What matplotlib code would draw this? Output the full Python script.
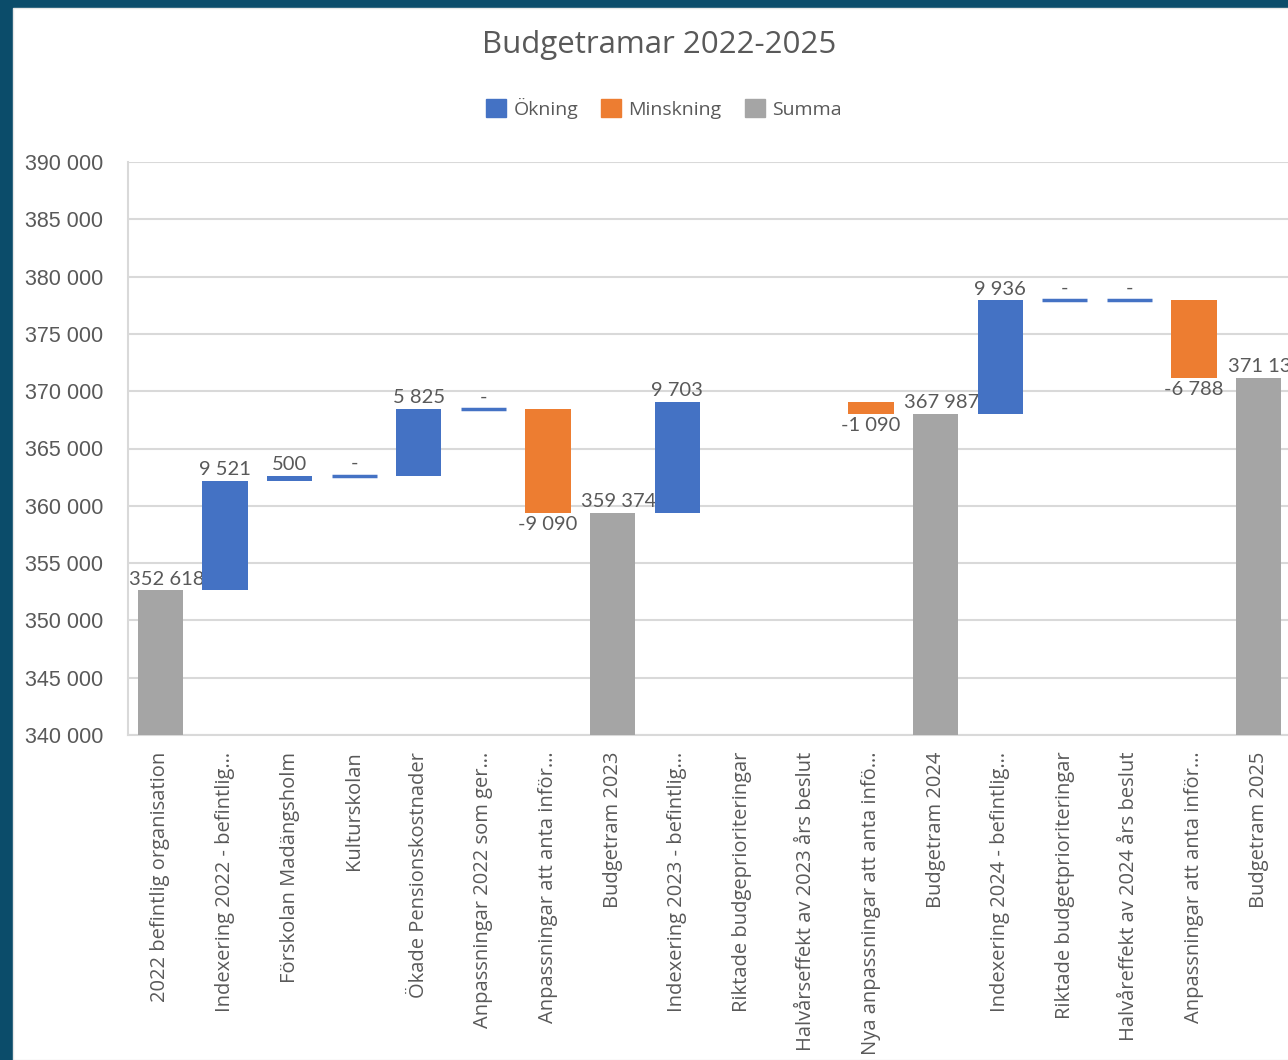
import matplotlib
matplotlib.use('Agg')
import matplotlib.pyplot as plt
from matplotlib.patches import Patch, Rectangle

# Data ########################################################################
categories = [
    '2022 befintlig organisation',
    'Indexering 2022 - befintlig…',
    'Förskolan Madängsholm',
    'Kulturskolan',
    'Ökade Pensionskostnader',
    'Anpassningar 2022 som ger…',
    'Anpassningar att anta inför…',
    'Budgetram 2023',
    'Indexering 2023 - befintlig…',
    'Riktade budgeprioriteringar',
    'Halvårseffekt av 2023 års beslut',
    'Nya anpassningar att anta infö…',
    'Budgetram 2024',
    'Indexering 2024 - befintlig…',
    'Riktade budgetprioriteringar',
    'Halvåreffekt av 2024 års beslut',
    'Anpassningar att anta inför…',
    'Budgetram 2025',
]
values = [352618, 9521, 500, 0, 5825, 0, -9090, 359374, 9703, None, None,
          -1090, 367987, 9936, 0, 0, -6788, 371135]
is_total = [True, False, False, False, False, False, False, True, False, False,
            False, False, True, False, False, False, False, True]
yticks = list(range(340000, 390001, 5000))

BLUE = '#4472C4'
ORANGE = '#ED7D31'
GRAY = '#A5A5A5'
TEXT = '#595959'
GRID = '#D9D9D9'


def fmt(v):
    if v == 0:
        return '-'
    s = f'{abs(v):,}'.replace(',', ' ')
    return ('-' if v < 0 else '') + s


fig = plt.figure(figsize=(12.88, 10.6), dpi=100, facecolor='#0B4C6A')
fig.patches.append(Rectangle((13 / 1288, 0), 1, 1 - 8 / 1060, transform=fig.transFigure,
                             facecolor='white', edgecolor='#E6E6E6', lw=1, zorder=-5))
ax = fig.add_axes([128 / 1288, 1 - 735 / 1060, 1163 / 1288, 573 / 1060])
ax.set_facecolor('white')

lab_font = dict(family='Lato', fontsize=14.5, color=TEXT)
running = 0
for i, v in enumerate(values):
    if v is None:
        continue
    if is_total[i]:
        ax.bar(i, v, width=0.7, bottom=0, color=GRAY, zorder=3)
        running = v
        ax.text(i + 0.1, v + 250, fmt(v), ha='center', va='bottom', **lab_font)
    elif v > 0:
        ax.bar(i, v, width=0.7, bottom=running, color=BLUE, zorder=3)
        ax.text(i, running + v + 250, fmt(v), ha='center', va='bottom', **lab_font)
        running += v
    elif v < 0:
        ax.bar(i, v, width=0.7, bottom=running, color=ORANGE, zorder=3)
        ax.text(i, running + v - 250, fmt(v), ha='center', va='top', **lab_font)
        running += v
    else:
        ax.bar(i, 0, width=0.7, bottom=running, color=BLUE, edgecolor=BLUE,
               linewidth=2.5, zorder=3)
        ax.text(i, running + 300, fmt(v), ha='center', va='bottom', **lab_font)

ax.set_xlim(-0.5, len(categories) - 0.5)
ax.set_ylim(340000, 390000)
ax.set_yticks(yticks)
ax.set_yticklabels([fmt(t) for t in yticks], family='Liberation Sans',
                   fontsize=15.5, color=TEXT)
ax.set_xticks(range(len(categories)))
ax.set_xticklabels(categories, rotation=90, family='Open Sans', fontsize=14.5,
                   color=TEXT, va='top', ha='center')
ax.tick_params(length=0, axis='both')
ax.tick_params(axis='x', pad=12)
ax.tick_params(axis='y', pad=18)
ax.grid(axis='y', color=GRID, linewidth=1.5, zorder=0)
ax.set_axisbelow(True)
for side in ['top', 'right']:
    ax.spines[side].set_visible(False)
for side in ['left', 'bottom']:
    ax.spines[side].set_color(GRID)
    ax.spines[side].set_linewidth(1.5)

fig.text(659 / 1288, 1 - 45 / 1060, 'Budgetramar 2022-2025', ha='center',
         va='center', family='Open Sans', fontsize=22.5, color=TEXT)

handles = [Patch(color=BLUE, label='Ökning'),
           Patch(color=ORANGE, label='Minskning'),
           Patch(color=GRAY, label='Summa')]
fig.legend(handles=handles, loc='center', bbox_to_anchor=(664 / 1288, 1 - 108 / 1060),
           ncol=3, frameon=False, prop=dict(family='Open Sans', size=14),
           labelcolor=TEXT, handlelength=1.0, handleheight=1.0,
           handletextpad=0.4, columnspacing=1.2)

fig.savefig('out.png', dpi=100, facecolor=fig.get_facecolor())
